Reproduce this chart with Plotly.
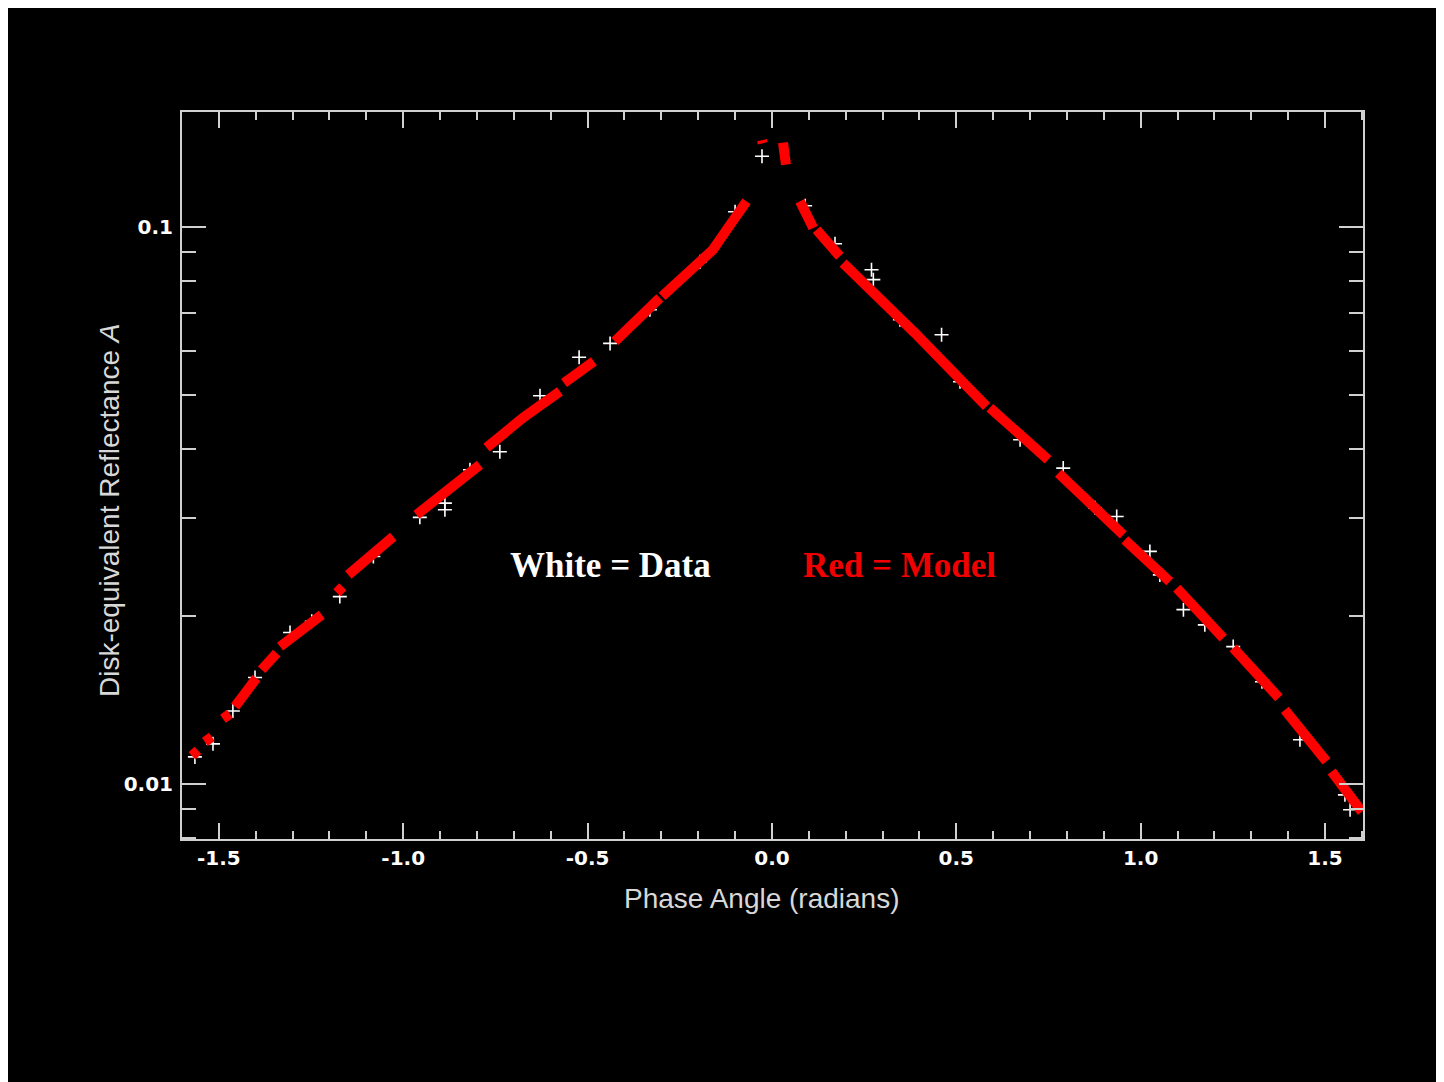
import plotly.graph_objects as go

# ---------------- data ----------------
# Model (red): streaks of model points, None separates streaks
model_phase = [
    -1.573, -1.557, None,
    -1.538, -1.519, None,
    -1.489, -1.470, None,
    -1.456, -1.398, None,
    -1.384, -1.343, None,
    -1.334, -1.280, -1.221, None,
    -1.180, -1.164, None,
    -1.149, -1.090, -1.027, None,
    -0.964, -0.879, -0.792, None,
    -0.774, -0.675, -0.575, None,
    -0.564, -0.483, None,
    -0.426, -0.304, None,
    -0.298, -0.214, -0.160, -0.119, -0.069, None,
    -0.027, -0.025, None,
    0.030, 0.034, 0.038, None,
    0.076, 0.112, None,
    0.121, 0.184, None,
    0.193, 0.388, 0.582, None,
    0.591, 0.749, None,
    0.777, 0.953, None,
    0.957, 1.079, None,
    1.098, 1.224, None,
    1.251, 1.375, None,
    1.391, 1.504, None,
    1.518, 1.600,
]
model_refl = [
    0.01123, 0.01149, None,
    0.01190, 0.01214, None,
    0.01309, 0.01336, None,
    0.01377, 0.01549, None,
    0.01603, 0.01717, None,
    0.01764, 0.01890, 0.02012, None,
    0.02203, 0.02259, None,
    0.02373, 0.02567, 0.02780, None,
    0.03042, 0.03374, 0.03741, None,
    0.04015, 0.04545, 0.05067, None,
    0.05246, 0.05736, None,
    0.06230, 0.07457, None,
    0.07505, 0.08381, 0.09104, 0.0997, 0.1112, None,
    0.1432, 0.1414, None,
    0.1417, 0.1360, 0.1294, None,
    0.1112, 0.0996, None,
    0.0989, 0.08856, None,
    0.08615, 0.06450, 0.04762, None,
    0.04737, 0.03819, None,
    0.03614, 0.02801, None,
    0.02743, 0.02308, None,
    0.02246, 0.01827, None,
    0.01755, 0.01427, None,
    0.01358, 0.01097, None,
    0.01052, 0.008907,
]

# Data (white "+")
data_phase = [
    -1.565, -1.516, -1.462, -1.402, -1.307, -1.248, -1.172, -1.081,
    -0.955, -0.887, -0.887, -0.819, -0.738, -0.629, -0.523, -0.439,
    -0.331, -0.195, -0.100, -0.027,
    0.090, 0.171, 0.270, 0.275, 0.347, 0.460, 0.510, 0.673, 0.790,
    0.876, 0.935, 1.025, 1.052, 1.116, 1.174, 1.251, 1.329, 1.432,
    1.554, 1.568,
]
data_refl = [
    0.01118, 0.01180, 0.01352, 0.01552, 0.01870, 0.01958, 0.02169, 0.02561,
    0.03010, 0.03193, 0.03106, 0.03664, 0.03948, 0.04977, 0.05836, 0.06180,
    0.07101, 0.08663, 0.1065, 0.1340,
    0.1092, 0.0933, 0.08381, 0.08043, 0.06815, 0.06404, 0.05274, 0.04149, 0.03690,
    0.03131, 0.03021, 0.02615, 0.02373, 0.02055, 0.01930, 0.01764, 0.01525, 0.01200,
    0.009556, 0.008985,
]

x_tickvals = [-1.5, -1.0, -0.5, 0.0, 0.5, 1.0, 1.5]
x_ticktext = ["-1.5", "-1.0", "-0.5", "0.0", "0.5", "1.0", "1.5"]
y_tickvals = [0.01, 0.1]
y_ticktext = ["0.01", "0.1"]
y_minorvals = [0.008, 0.009, 0.02, 0.03, 0.04, 0.05, 0.06, 0.07, 0.08, 0.09]

# ---------------- figure ----------------
# page body has an 8px margin, so the figure is laid out 8px in from the window corner
OFF = 8
W, H = 1444 - OFF, 1082 - OFF
PL, PR, PT, PB = 182, 1363, 112, 839          # plot area in window pixels
L, T = PL - OFF, PT - OFF
R, B = W - (PR - OFF), H - (PB - OFF)
pw, ph = PR - PL, PB - PT


def px(xs):
    return (xs - PL) / pw


def py(ys):
    return (PB - ys) / ph


fig = go.Figure()
fig.add_trace(go.Scatter(
    x=data_phase, y=data_refl, mode="markers",
    marker=dict(symbol="cross-thin-open", size=10, color="white",
                line=dict(color="white", width=1.6)),
    hoverinfo="skip", showlegend=False))
fig.add_trace(go.Scatter(
    x=model_phase, y=model_refl, mode="lines",
    line=dict(color="#ff0000", width=10),
    connectgaps=False, hoverinfo="skip", showlegend=False))

axis_col = "#d0d0d0"
tickfont = dict(family="DejaVu Sans", size=20, color="white", weight="bold")

fig.update_xaxes(
    range=[-1.6, 1.603], showgrid=False, zeroline=False,
    showline=True, linecolor=axis_col, linewidth=2, mirror="ticks",
    ticks="inside", ticklen=16, tickwidth=2, tickcolor=axis_col,
    tickvals=x_tickvals, ticktext=x_ticktext, tickfont=tickfont,
    minor=dict(ticks="inside", ticklen=8, tickwidth=2, tickcolor=axis_col,
               tickmode="linear", tick0=0, dtick=0.1, showgrid=False),
)
fig.update_yaxes(
    type="log", range=[-2.099, -0.7935], showgrid=False, zeroline=False,
    showline=True, linecolor=axis_col, linewidth=2, mirror="ticks",
    ticks="inside", ticklen=24, tickwidth=2, tickcolor=axis_col,
    tickvals=y_tickvals, ticktext=y_ticktext, tickfont=tickfont,
    ticklabelstandoff=3,
    minor=dict(ticks="inside", ticklen=14, tickwidth=2, tickcolor=axis_col,
               tickvals=y_minorvals, showgrid=False),
)

annotations = [
    dict(x=px(762), y=py(898), text="Phase Angle (radians)",
         font=dict(family="Liberation Sans", size=28, color="#d8d8d8")),
    dict(x=px(110), y=py(510), text="Disk-equivalent Reflectance <i>A</i>",
         textangle=-90,
         font=dict(family="Liberation Sans", size=28, color="#d8d8d8")),
    dict(x=px(610), y=py(565), text="<b>White = Data</b>",
         font=dict(family="Liberation Serif", size=35, color="white")),
    dict(x=px(899), y=py(565), text="<b>Red = Model</b>",
         font=dict(family="Liberation Serif", size=35, color="#f00000")),
]
for a in annotations:
    a.update(xref="paper", yref="paper", showarrow=False,
             xanchor="center", yanchor="middle")

fig.update_layout(
    width=W, height=H,
    margin=dict(l=L, r=R, t=T, b=B, pad=0),
    paper_bgcolor="white", plot_bgcolor="black",
    annotations=annotations,
    shapes=[dict(type="rect", xref="paper", yref="paper", layer="below",
                 x0=px(0), x1=px(1436), y0=py(1100), y1=py(0),
                 fillcolor="black", line=dict(width=0))],
)

fig.write_html("out.html")
